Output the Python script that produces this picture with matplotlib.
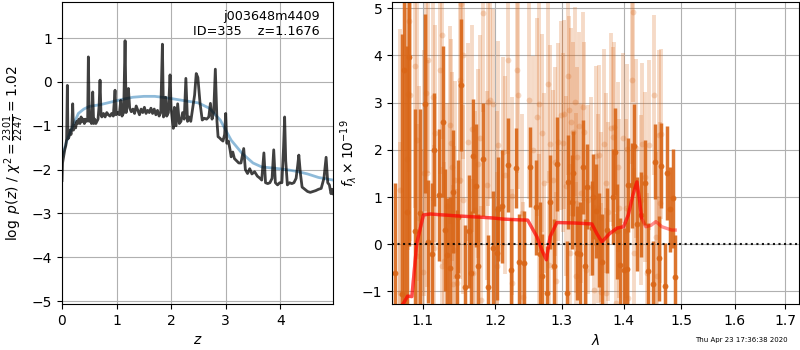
import numpy as np
import matplotlib
matplotlib.use("Agg")
import matplotlib.pyplot as plt
from matplotlib.ticker import FixedLocator, FixedFormatter, NullLocator

# ---- redshift probability curve ----
z_grid = [0.0, 0.01, 0.03, 0.05, 0.07, 0.085, 0.098, 0.11, 0.13, 0.147, 0.165, 0.18, 0.196, 0.21,
          0.23, 0.25, 0.27, 0.29, 0.31, 0.33, 0.35, 0.37, 0.39, 0.41, 0.43, 0.45, 0.47, 0.483,
          0.50, 0.52, 0.54, 0.563, 0.58, 0.60, 0.62, 0.64, 0.66, 0.68, 0.697, 0.715, 0.73, 0.76,
          0.79, 0.82, 0.85, 0.88, 0.91, 0.94, 0.972, 0.99, 1.02, 1.05, 1.077, 1.10, 1.13, 1.156,
          1.175, 1.19, 1.217, 1.24, 1.27, 1.30, 1.33, 1.36, 1.39, 1.42, 1.45, 1.48, 1.51, 1.54,
          1.57, 1.60, 1.63, 1.66, 1.69, 1.72, 1.75, 1.78, 1.81, 1.84, 1.86, 1.88, 1.90, 1.92,
          1.95, 1.98, 2.00, 2.02, 2.04, 2.06, 2.09, 2.12, 2.15, 2.18, 2.21, 2.24, 2.27, 2.30,
          2.33, 2.36, 2.40, 2.43, 2.46, 2.49, 2.53, 2.57, 2.61, 2.65, 2.69, 2.72, 2.75, 2.78,
          2.81, 2.84, 2.86, 2.89, 2.92, 2.95, 2.98, 3.00, 3.02, 3.05, 3.08, 3.10, 3.13, 3.16,
          3.20, 3.24, 3.28, 3.33, 3.36, 3.40, 3.44, 3.48, 3.53, 3.58, 3.63, 3.66, 3.70, 3.73,
          3.77, 3.81, 3.85, 3.88, 3.91, 3.95, 3.99, 4.03, 4.06, 4.08, 4.10, 4.13, 4.17, 4.21,
          4.25, 4.29, 4.32, 4.34, 4.37, 4.40, 4.45, 4.50, 4.55, 4.60, 4.65, 4.70, 4.75, 4.80,
          4.84, 4.87, 4.90, 4.93, 4.95, 4.97]
log_pz = [-2.25, -1.85, -1.70, -1.55, -1.45, -1.30, -0.08, -1.30, -1.25, -1.10, -1.20, -1.05, -0.50, -1.10,
          -1.00, -1.05, -0.90, -0.95, -0.85, -0.95, -0.80, -0.90, -0.85, -0.95, -0.85, -0.90, -0.88, 0.57,
          -0.90, -0.80, -0.95, -0.23, -0.95, -0.85, -0.95, -0.90, -0.85, -0.55, 0.04, -0.75, -0.80, -0.72,
          -0.80, -0.70, -0.75, -0.78, -0.72, -0.78, -0.19, -0.75, -0.70, -0.75, -0.42, -0.78, -0.70, 0.94,
          -0.70, -0.55, -0.15, -0.60, -0.68, -0.62, -0.72, -0.55, -0.65, -0.75, -0.62, -0.70, -0.58, -0.72,
          -0.65, -0.70, -0.60, -0.72, -0.62, -0.75, -0.65, -0.78, -0.70, 0.86, -0.80, -0.75, -0.35, -0.78,
          -0.70, 0.16, -0.60, -0.85, -1.06, -0.58, -1.00, -0.50, -0.95, -0.90, -0.70, -0.85, 0.08, -0.90,
          -0.80, -0.90, -0.55, -0.30, 0.19, 0.10, -0.49, -0.87, -0.83, -0.85, -0.80, -0.49, -0.85, -0.70,
          0.29, -0.90, -1.25, -1.28, -1.32, -1.35, -1.20, -0.72, -1.40, -1.35, -1.55, -1.71, -1.60, -1.75,
          -1.80, -1.85, -1.85, -1.52, -2.00, -2.09, -1.98, -2.10, -2.05, -2.15, -2.20, -2.24, -1.62, -2.30,
          -2.32, -2.30, -2.20, -1.55, -2.30, -2.35, -2.30, -2.30, -1.50, -0.80, -1.80, -2.35, -2.30, -2.32,
          -2.30, -2.20, -1.90, -1.67, -2.10, -2.40, -2.45, -2.50, -2.52, -2.50, -2.48, -2.45, -2.43, -2.20,
          -1.72, -2.30, -2.35, -2.55, -2.45, -2.55]

# smooth prior-like curve
z_smooth = [0.0, 0.05, 0.1, 0.15, 0.2, 0.3, 0.4, 0.5, 0.7, 0.9, 1.1, 1.3, 1.5, 1.7, 1.9, 2.1,
            2.3, 2.5, 2.7, 2.9, 3.0, 3.1, 3.3, 3.5, 3.66, 3.9, 4.1, 4.3, 4.5, 4.7, 4.97]
log_smooth = [-1.72, -1.50, -1.30, -1.15, -1.00, -0.72, -0.62, -0.56, -0.52, -0.46, -0.40, -0.35,
              -0.33, -0.33, -0.36, -0.40, -0.44, -0.48, -0.60, -0.87, -1.10, -1.33, -1.63, -1.85,
              -1.94, -1.97, -2.00, -2.04, -2.10, -2.18, -2.24]

# ---- spectrum, first extraction (dark) ----
dark_wave = [1.0640, 1.0726, 1.0755, 1.0790, 1.0824, 1.0899, 1.0964,
             1.1030, 1.1074, 1.1120, 1.1154, 1.1222, 1.1268, 1.1299, 1.1322, 1.1367, 1.1412,
             1.1459, 1.1481, 1.1518, 1.1574, 1.1634, 1.1650, 1.1681, 1.1724, 1.1760, 1.1831,
             1.1902, 1.1974, 1.2032, 1.2046, 1.2096, 1.2192, 1.2228, 1.2306, 1.2354, 1.2429,
             1.2514, 1.2605, 1.2665, 1.2691, 1.2768, 1.2818, 1.2879, 1.2931, 1.3078, 1.3103,
             1.3157, 1.3182, 1.3236, 1.3280, 1.3332, 1.3369, 1.3406, 1.3477, 1.3503, 1.3542,
             1.3596, 1.3641, 1.3724, 1.3816, 1.3849, 1.3889, 1.3944, 1.4005, 1.4057, 1.4083,
             1.4141, 1.4185, 1.4227, 1.4300, 1.4369, 1.4409, 1.4513, 1.4543, 1.4601, 1.4649,
             1.4707, 1.4750, 1.4808, 1.4856, 1.4897]
dark_flux = [-0.60, -1.05, 3.70, 0.69, 3.97, 0.27, 0.67,
             2.98, 0.05, -0.20, 2.00, 1.04, 2.60, 0.30, -0.23, -0.51, 1.11,
             -0.67, 0.58, 3.37, -0.90, 0.27, -0.60, 1.87, 1.24, -0.47, 1.80,
             -0.91, -0.08, -0.19, 0.75, 0.80, 1.68, -0.54, 1.61, -0.37, -0.40,
             1.63, 0.78, -0.20, -0.68, -1.04, 0.90, -0.46, 1.70, -1.04, 1.32,
             0.90, 1.50, -0.18, -0.20, 1.64, -0.47, 1.22, 0.34, 1.01, 0.71,
             0.09, -0.37, 0.30, 1.01, 1.96, 0.27, -0.44, -0.55, -0.53, 1.25,
             1.25, 2.08, 0.43, 0.62, 1.30, -0.56, -0.84, 1.75, -0.30, 1.66,
             -0.88, 1.51, 0.74, 0.97, -0.70]
dark_err = [1.9, 5.5, 5.0, 3.5, 4.0, 2.6, 2.2,
            1.9, 1.3, 1.5, 1.2, 1.4, 1.6, 1.3, 1.2, 1.5, 1.3,
            1.4, 1.2, 1.4, 1.3, 1.2, 1.3, 1.2, 1.3, 1.1, 1.2,
            1.1, 1.2, 1.0, 1.1, 1.2, 1.0, 1.1, 0.85, 1.0, 1.1,
            0.85, 1.0, 1.1, 0.9, 1.0, 1.0, 1.0, 1.0, 1.1, 1.0,
            1.0, 0.9, 1.0, 1.1, 1.0, 1.0, 0.9, 1.0, 0.9, 1.0,
            1.0, 1.0, 0.9, 1.0, 0.92, 1.0, 1.0, 0.9, 1.0, 1.0,
            0.9, 0.9, 1.0, 0.9, 0.9, 1.0, 0.9, 0.8, 0.9, 0.9,
            0.9, 1.0, 0.9, 1.05, 0.9]

# ---- spectrum, second extraction (light) ----
light_wave = [1.0700, 1.0705, 1.0790, 1.0810, 1.0824, 1.0832, 1.0899, 1.0921, 1.0925, 1.0950,
              1.1000, 1.1010, 1.1044, 1.1061, 1.1075, 1.1140, 1.1150, 1.1164, 1.1231, 1.1254,
              1.1263, 1.1290, 1.1330, 1.1367, 1.1376, 1.1389, 1.1400, 1.1420, 1.1434, 1.1459,
              1.1500, 1.1505, 1.1520, 1.1540, 1.1549, 1.1618, 1.1664, 1.1687, 1.1711, 1.1758,
              1.1781, 1.1790, 1.1828, 1.1876, 1.1900, 1.1924, 1.1972, 1.2020, 1.2025, 1.2044,
              1.2117, 1.2141, 1.2190, 1.2239, 1.2245, 1.2313, 1.2338, 1.2387, 1.2402, 1.2501,
              1.2561, 1.2611, 1.2651, 1.2655, 1.2686, 1.2721, 1.2787, 1.2795, 1.2813, 1.2863,
              1.2889, 1.2915, 1.2940, 1.2991, 1.3017, 1.3030, 1.3069, 1.3095, 1.3110, 1.3121,
              1.3147, 1.3173, 1.3199, 1.3226, 1.3230, 1.3236, 1.3278, 1.3305, 1.3332, 1.3358,
              1.3384, 1.3411, 1.3465, 1.3519, 1.3546, 1.3573, 1.3594, 1.3627, 1.3630, 1.3681,
              1.3705, 1.3708, 1.3736, 1.3791, 1.3818, 1.3840, 1.3873, 1.3901, 1.3928, 1.3995,
              1.4049, 1.4066, 1.4070, 1.4139, 1.4161, 1.4178, 1.4217, 1.4290, 1.4318, 1.4364,
              1.4404, 1.4442, 1.4517, 1.4556, 1.4573, 1.4603, 1.4631, 1.4650]
light_flux = [1.15, -1.04, 1.80, 3.18, 4.74, 3.16, 3.77, 2.21, -0.26, 0.55,
              -0.58, 1.51, 3.21, 1.50, 3.90, 3.12, -0.09, 2.35, 3.69, -0.47,
              4.43, -0.35, 0.80, 2.52, 2.15, 1.64, -0.85, -0.12, 1.36, -0.82,
              1.36, 3.47, 5.09, 4.00, 0.94, 2.17, 2.45, -0.61, 0.73, 1.71,
              2.24, -1.18, 4.90, 1.25, 3.02, 3.05, 2.98, 0.73, -0.47, 2.10,
              1.96, 1.47, 3.91, 1.02, -0.82, 3.70, 3.16, 0.66, -1.11, 3.05,
              1.99, 2.70, 2.98, -0.09, 2.35, 1.30, 3.40, -0.44, 2.13, 1.36,
              1.75, -0.79, 2.17, 2.73, 2.15, 2.75, 1.23, 3.56, 2.84, -0.19,
              2.59, 2.38, 3.02, 0.87, -0.68, 1.85, 2.50, 1.08, 2.91, 2.38,
              -0.54, 0.94, 1.22, -0.97, 1.87, 0.76, 1.89, 0.58, -1.02, 2.13,
              1.30, -1.04, 0.69, 2.47, 2.28, 2.49, -1.25, 1.64, 0.76, 2.26,
              0.76, 2.01, -1.14, 3.49, 4.92, -0.19, 2.03, 0.94, 2.13, 1.43,
              -0.61, 2.10, 3.16, 0.16, -0.67, 2.31, 0.88, 2.33]
light_err = [3.4, 3.2, 3.2, 3.3, 3.2, 3.1, 3.0, 3.0, 2.8, 2.8,
             2.6, 2.6, 2.5, 2.4, 2.4, 2.2, 2.2, 2.3, 2.2, 2.1,
             2.2, 2.1, 2.2, 2.1, 2.2, 2.0, 2.1, 2.2, 2.1, 2.0,
             2.1, 2.2, 2.1, 2.2, 2.0, 2.1, 2.2, 2.0, 2.1, 2.0,
             2.2, 2.0, 2.1, 2.0, 2.2, 2.1, 2.0, 2.1, 2.0, 2.2,
             2.0, 2.1, 2.0, 2.1, 2.0, 2.2, 2.0, 2.1, 2.0, 2.1,
             2.0, 2.1, 2.2, 2.0, 2.1, 1.9, 2.1, 2.0, 2.1, 1.9,
             2.0, 1.9, 2.1, 2.0, 1.9, 2.0, 1.9, 2.1, 2.0, 1.9,
             2.0, 1.9, 2.0, 1.9, 2.0, 1.9, 2.0, 1.9, 2.0, 1.9,
             1.9, 2.0, 1.9, 1.8, 1.9, 2.0, 1.9, 1.8, 1.9, 2.0,
             1.9, 1.8, 1.9, 2.0, 1.9, 1.8, 1.9, 1.8, 1.9, 1.8,
             1.9, 1.8, 1.9, 1.8, 1.9, 1.8, 1.9, 1.8, 1.7, 1.8,
             1.7, 1.8, 1.7, 1.8, 1.7, 1.8, 1.7, 1.8]

# ---- best-fit model ----
model_wave = [1.0700, 1.0748, 1.0800, 1.0856, 1.0920, 1.1008, 1.1100, 1.1186, 1.1459, 1.1930,
              1.2137, 1.2477, 1.2615, 1.2700, 1.2760, 1.2818, 1.2922, 1.3180, 1.3477, 1.3560,
              1.3641, 1.3765, 1.3890, 1.4000, 1.4080, 1.4160, 1.4227, 1.4270, 1.4305, 1.4380,
              1.4470, 1.4556, 1.4660, 1.4834, 1.4897]
model_flux = [-1.35, -1.25, -1.10, -1.11, 0.02, 0.62, 0.64, 0.63, 0.60, 0.56,
              0.53, 0.51, 0.16, -0.15, -0.33, 0.16, 0.46, 0.45, 0.43, 0.22,
              0.05, 0.22, 0.34, 0.37, 0.62, 1.05, 1.32, 0.95, 0.56, 0.37,
              0.40, 0.48, 0.37, 0.30, 0.30]

wave_ticks = [1.1, 1.2, 1.3, 1.4, 1.5, 1.6, 1.7]
pz_yticks = [-5, -4, -3, -2, -1, 0, 1]
pz_xticks = [0, 1, 2, 3, 4]

fig = plt.figure(figsize=(8, 3.5), dpi=100)

# left: log p(z)
ax1 = fig.add_axes([0.0775, 0.131, 0.339, 0.863])
ax1.plot(z_smooth, log_smooth, color='#1f77b4', alpha=0.5, lw=2)
ax1.plot(z_grid, log_pz, color='k', alpha=0.75, lw=2.0)
ax1.set_xlim(0, 4.97)
ax1.set_ylim(-5.07, 1.82)
ax1.set_xticks(pz_xticks)
ax1.set_yticks(pz_yticks)
ax1.grid(True)
ax1.set_xlabel(r'$z$')
ax1.set_ylabel(r'$\log\ p(z)$' + ' / ' + r'$\chi^2=\frac{2301}{2247}=1.02$')
ax1.text(0.95, 0.975, 'j003648m4409\nID=335    z=1.1676', transform=ax1.transAxes,
         ha='right', va='top', fontsize=9.2)

# right: spectrum
ax2 = fig.add_axes([0.49, 0.131, 0.509, 0.863])
orange = (0.85, 0.40, 0.09)
ax2.errorbar(light_wave, light_flux, yerr=light_err, fmt='o', color=orange, alpha=0.24,
             ms=4.2, elinewidth=2.8, capsize=0, mec='none')
ax2.errorbar(dark_wave, dark_flux, yerr=dark_err, fmt='o', color=orange, alpha=0.9,
             ms=4.2, elinewidth=2.5, capsize=0, mec='none')
ax2.plot(model_wave, model_flux, color='r', alpha=0.45, lw=2.4, zorder=5)
mw = [w for w in model_wave if w <= 1.4305]
ax2.plot(mw, model_flux[:len(mw)], color='r', alpha=0.45, lw=2.4, zorder=5)
ax2.axhline(0, color='k', ls=':', lw=1.5, alpha=0.9, zorder=6)
ax2.set_xscale('log')
ax2.set_xlim(1.06, 1.729)
ax2.set_ylim(-1.27, 5.13)
ax2.xaxis.set_major_locator(FixedLocator(wave_ticks))
ax2.xaxis.set_major_formatter(FixedFormatter([f'{t:.1f}' for t in wave_ticks]))
ax2.xaxis.set_minor_locator(NullLocator())
ax2.grid(True)
ax2.set_xlabel(r'$\lambda$')
ax2.set_ylabel(r'$f_\lambda\times10^{-19}$', labelpad=2)

fig.text(0.984, 0.028, 'Thu Apr 23 17:36:38 2020', ha='right', va='center', fontsize=5)

fig.savefig('out.png', dpi=100)
